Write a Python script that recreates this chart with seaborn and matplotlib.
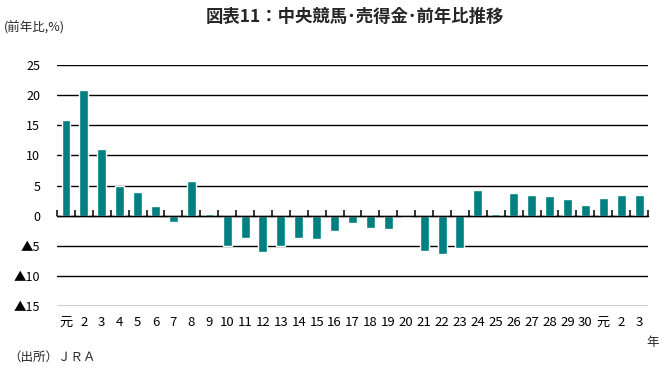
import matplotlib
matplotlib.use("Agg")
import matplotlib.pyplot as plt
import seaborn as sns
import pandas as pd
import numpy as np

years = ["H元", "H2", "H3", "H4", "H5", "H6", "H7", "H8", "H9", "H10", "H11", "H12",
         "H13", "H14", "H15", "H16", "H17", "H18", "H19", "H20", "H21", "H22", "H23",
         "H24", "H25", "H26", "H27", "H28", "H29", "H30", "R元", "R2", "R3"]
labels = ["元", "2", "3", "4", "5", "6", "7", "8", "9", "10", "11", "12", "13", "14",
          "15", "16", "17", "18", "19", "20", "21", "22", "23", "24", "25", "26", "27",
          "28", "29", "30", "元", "2", "3"]
values = [15.8, 20.8, 11.0, 5.0, 4.0, 1.55, -1.1, 5.7, 0.35, -5.1, -3.8, -6.1, -5.1,
          -3.8, -3.9, -2.6, -1.3, -2.1, -2.3, -0.3, -5.8, -6.4, -5.4, 4.3, 0.35, 3.7,
          3.5, 3.3, 2.8, 1.7, 3.0, 3.5, 3.5]
yticks = [25, 20, 15, 10, 5, 0, -5, -10, -15]
ytick_labels = ["25", "20", "15", "10", "5", "0", "▲5", "▲10", "▲15"]

sns.set_theme(style="ticks")
plt.rcParams["font.family"] = ["Noto Sans CJK JP", "DejaVu Sans"]

df = pd.DataFrame({"year": years, "value": values})

fig = plt.figure(figsize=(6.67, 3.74), dpi=100)
ax = fig.add_axes([0.0855, 0.182, 0.886, 0.644])
sns.barplot(data=df, x="year", y="value", order=years, color="#008080",
            width=0.5, ax=ax, saturation=1, zorder=3)

n = len(years)
ax.set_ylim(-15, 25)
ax.set_xlim(-0.5, n - 0.5)
ax.set_yticks(yticks)
ax.set_yticklabels(ytick_labels, fontsize=9, color="black")

# boundary ticks on the zero line
ax.set_xticks(np.arange(-0.5, n, 1.0))
ax.set_xticklabels([""] * (n + 1))
for s in ["top", "right", "left"]:
    ax.spines[s].set_visible(False)
ax.spines["bottom"].set_position(("data", 0))
ax.spines["bottom"].set_color("black")
ax.spines["bottom"].set_linewidth(1.0)
ax.spines["bottom"].set_zorder(4)
ax.tick_params(axis="x", which="major", length=4, width=1.1, direction="in",
               color="black", bottom=True, top=False)

# category labels at the bottom
sec = ax.secondary_xaxis(0)
sec.set_xticks(range(n))
sec.set_xticklabels(labels, fontsize=9.5, color="black")
sec.tick_params(axis="x", length=0, pad=7)
sec.spines["bottom"].set_visible(False)

ax.tick_params(axis="y", length=0, pad=12, left=True)
ax.yaxis.grid(True, color="black", linewidth=1.0, zorder=0)
ax.set_axisbelow(True)
ax.set_xlabel("")
ax.set_ylabel("")

fig.text(0.532, 0.955, "図表11：中央競馬･売得金･前年比推移", ha="center", va="center",
         fontsize=12.5, fontweight="bold")
fig.text(0.006, 0.925, "(前年比,%)", ha="left", va="center", fontsize=9)
fig.text(0.978, 0.083, "年", ha="center", va="center", fontsize=9)
fig.text(0.012, 0.045, "（出所）ＪＲＡ", ha="left", va="center", fontsize=9)

fig.savefig("out.png", dpi=100)
